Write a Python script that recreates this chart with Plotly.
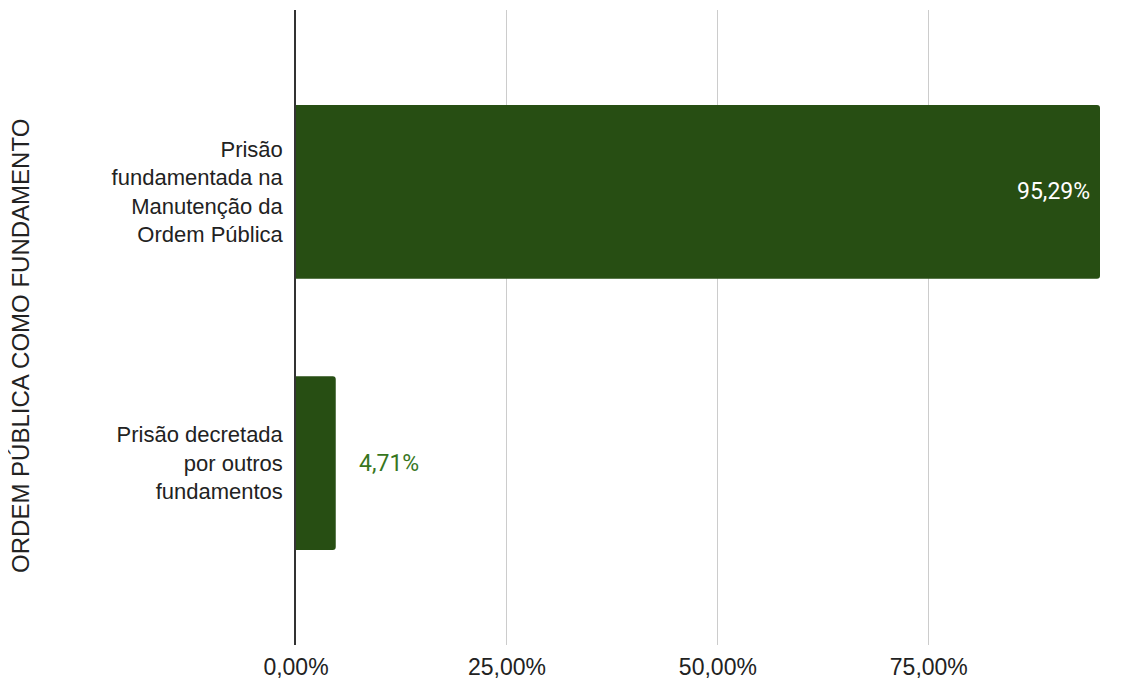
import plotly.graph_objects as go

categories = ["Prisão<br>fundamentada na<br>Manutenção da<br>Ordem Pública",
              "Prisão decretada<br>por outros<br>fundamentos"]
values = [95.29, 4.71]
value_labels = ["95,29%", "4,71%"]
tick_vals = [0, 25, 50, 75]
tick_text = ["0,00%", "25,00%", "50,00%", "75,00%"]
axis_title = "ORDEM PÚBLICA COMO FUNDAMENTO"

bar_color = "#274e13"
text_font = "Liberation Sans, Arial, sans-serif"

fig = go.Figure()
fig.add_trace(go.Bar(
    x=values, y=categories, orientation="h",
    marker=dict(color=bar_color, cornerradius=3, line=dict(width=0)),
    width=0.64, hoverinfo="skip",
))

# data labels
fig.add_annotation(x=values[0], y=categories[0], text=value_labels[0],
                   xanchor="right", xshift=-8, showarrow=False,
                   font=dict(family="Roboto", size=23, color="#ffffff"))
fig.add_annotation(x=values[1], y=categories[1], text=value_labels[1],
                   xanchor="left", xshift=21, showarrow=False,
                   font=dict(family="Roboto", size=23, color="#38761d"))

# axis title
fig.add_annotation(xref="paper", yref="paper", x=-0.342, y=0.471,
                   text=axis_title, textangle=-90, showarrow=False,
                   xanchor="center", yanchor="middle",
                   font=dict(family=text_font, size=24, color="#222222"))

fig.update_layout(
    width=1130, height=679,
    margin=dict(l=288, r=38, t=2, b=42),
    paper_bgcolor="white", plot_bgcolor="white",
    showlegend=False,
    font=dict(family=text_font, size=22, color="#222222"),
)
fig.update_xaxes(range=[0, 95.29], tickvals=tick_vals, ticktext=tick_text,
                 showgrid=True, gridcolor="#cccccc", gridwidth=1,
                 zeroline=False, showline=False, ticks="",
                 ticklabelstandoff=6,
                 tickfont=dict(family=text_font, size=23, color="#222222"))
fig.update_yaxes(type="category", categoryorder="array", categoryarray=categories,
                 range=[1.67, -0.67], showgrid=False, zeroline=False,
                 showline=True, linecolor="#333333", linewidth=1.5,
                 ticks="", ticklabelstandoff=7,
                 tickfont=dict(family=text_font, size=22, color="#222222"))

fig.write_html("out.html")
